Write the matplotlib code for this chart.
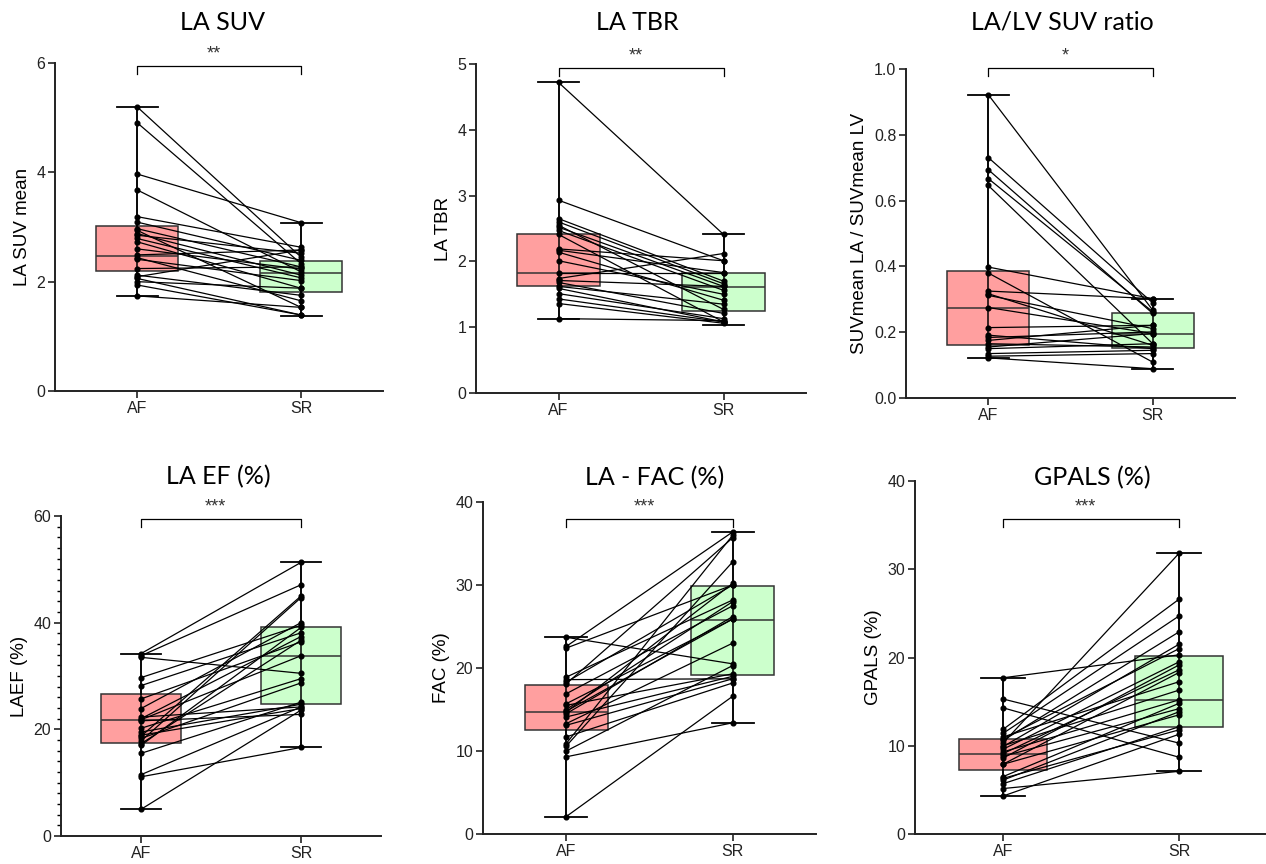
import numpy as np
import matplotlib
matplotlib.use("Agg")
import matplotlib.pyplot as plt

plt.rcParams['font.family'] = ['Liberation Sans', 'DejaVu Sans']

groups = ["AF", "SR"]

# paired values (AF -> SR), one entry per patient
suv_af = [5.20, 4.91, 3.97, 3.68, 3.19, 3.09, 2.97, 2.94, 2.88, 2.85, 2.79, 2.73,
          2.60, 2.49, 2.44, 2.41, 2.24, 2.12, 2.09, 2.06, 2.00, 1.94, 1.74]
suv_sr = [2.45, 2.33, 3.08, 2.18, 2.63, 2.39, 2.27, 1.53, 2.12, 2.52, 2.07, 1.88,
          2.23, 2.58, 1.65, 2.02, 2.27, 1.75, 2.58, 1.39, 1.88, 1.39, 1.53]

tbr_af = [4.72, 2.93, 2.65, 2.60, 2.55, 2.52, 2.47, 2.41, 2.19, 2.17, 2.14, 2.01,
          1.83, 1.74, 1.71, 1.68, 1.62, 1.59, 1.51, 1.43, 1.36, 1.13]
tbr_sr = [2.41, 2.01, 1.70, 1.66, 1.27, 1.62, 1.56, 1.08, 2.01, 1.83, 1.41, 1.50,
          1.83, 2.12, 1.62, 1.21, 1.35, 1.08, 1.13, 1.08, 1.06, 1.10]

ratio_af = [0.922, 0.731, 0.694, 0.667, 0.646, 0.398, 0.380, 0.325, 0.317, 0.312, 0.275,
            0.214, 0.191, 0.184, 0.175, 0.165, 0.155, 0.150, 0.135, 0.127, 0.122]
ratio_sr = [0.267, 0.289, 0.257, 0.262, 0.165, 0.302, 0.109, 0.302, 0.160, 0.211, 0.196,
            0.221, 0.150, 0.201, 0.221, 0.155, 0.196, 0.165, 0.145, 0.135, 0.089]

ef_af = [34.2, 33.8, 33.5, 29.7, 28.2, 25.7, 23.9, 22.3, 22.0, 21.6, 20.2, 19.5,
         18.7, 18.3, 17.8, 17.3, 17.0, 15.5, 11.5, 11.1, 5.0, 21.8, 18.9]
ef_sr = [51.3, 47.1, 30.5, 39.5, 38.1, 36.4, 40.0, 24.2, 37.4, 22.8, 29.5, 24.7,
         45.0, 28.7, 44.7, 36.7, 39.1, 25.1, 24.2, 16.6, 23.6, 33.8, 23.9]

fac_af = [23.7, 22.6, 22.4, 18.9, 18.6, 18.1, 16.9, 15.7, 15.5, 14.7, 14.5, 14.1,
          13.3, 11.7, 10.9, 10.6, 10.0, 9.3, 2.1, 14.8, 18.3, 13.1, 15.0]
fac_sr = [20.5, 36.4, 30.0, 28.2, 18.7, 35.7, 27.5, 25.9, 19.3, 30.2, 26.2, 19.0,
          23.0, 18.2, 36.0, 32.8, 20.3, 13.4, 16.6, 25.9, 30.0, 18.7, 28.0]

gpals_af = [17.7, 15.3, 14.3, 11.85, 11.4, 10.6, 10.3, 9.9, 9.6, 9.1, 8.6, 7.9,
            6.5, 6.1, 5.7, 5.15, 4.3, 11.0, 10.0, 9.3, 8.8, 7.9, 6.3, 10.8]
gpals_sr = [20.3, 10.3, 8.7, 26.6, 24.7, 22.9, 31.8, 21.5, 19.5, 18.6, 19.15, 18.3,
            14.8, 13.85, 12.15, 7.1, 11.3, 17.25, 16.3, 15.2, 14.2, 13.5, 11.8, 21.0]

# box statistics as shown: (min, q1, median, q3, max) for AF and SR
suv_box = [(1.74, 2.20, 2.47, 3.02, 5.20), (1.37, 1.81, 2.15, 2.38, 3.08)]
tbr_box = [(1.13, 1.63, 1.82, 2.41, 4.72), (1.04, 1.25, 1.61, 1.82, 2.41)]
ratio_box = [(0.123, 0.160, 0.274, 0.386, 0.922), (0.089, 0.152, 0.194, 0.257, 0.302)]
ef_box = [(5.0, 17.5, 21.7, 26.7, 34.2), (16.6, 24.7, 33.8, 39.1, 51.3)]
fac_box = [(2.1, 12.5, 14.7, 18.0, 23.7), (13.4, 19.2, 25.8, 29.9, 36.4)]
gpals_box = [(4.3, 7.2, 9.1, 10.75, 17.7), (7.1, 12.1, 15.2, 20.2, 31.8)]

titles = ["LA SUV", "LA TBR", "LA/LV SUV ratio", "LA EF (%)", "LA - FAC (%)", "GPALS (%)"]
ylabels = ["LA SUV mean", "LA TBR", "SUVmean LA / SUVmean LV", "LAEF (%)", "FAC (%)", "GPALS (%)"]
stars = ["**", "**", "*", "***", "***", "***"]
ymaxes = [6, 5, 1.0, 60, 40, 40]
ysteps = [2, 1, 0.2, 20, 10, 10]
yfmt = ["{:.0f}", "{:.0f}", "{:.1f}", "{:.0f}", "{:.0f}", "{:.0f}"]

panels = [(suv_af, suv_sr, suv_box), (tbr_af, tbr_sr, tbr_box), (ratio_af, ratio_sr, ratio_box),
          (ef_af, ef_sr, ef_box), (fac_af, fac_sr, fac_box), (gpals_af, gpals_sr, gpals_box)]

# layout in pixels of the 1266x864 canvas: axes (left, top, right, bottom)
W, H = 1266, 864
ax_px = [(55, 63, 383, 391), (476, 64, 806, 393), (906, 69, 1235, 398),
         (61, 516, 381, 836), (483, 502, 816, 834), (915, 481, 1267, 834)]
title_px = [(222, 22), (637, 22), (1062, 22), (218, 477), (655, 478), (1092, 478)]
bracket_px = [66, 68, 68, 519, 519, 519]

box_colors = ["#ff9f9f", "#ccffcc"]

fig = plt.figure(figsize=(W / 100, H / 100), dpi=100)

for i, (af, sr, box) in enumerate(panels):
    l, t, r, b = ax_px[i]
    ax = fig.add_axes([l / W, 1 - b / H, (r - l) / W, (b - t) / H])
    ymax = ymaxes[i]
    px_per_unit = (b - t) / ymax

    stats = []
    for lo, q1, med, q3, hi in box:
        stats.append(dict(whislo=lo, q1=q1, med=med, q3=q3, whishi=hi, fliers=[]))
    bp = ax.bxp(stats, positions=[0, 1], widths=0.5, capwidths=0.25, patch_artist=True,
                showfliers=False,
                boxprops=dict(edgecolor="#333333", linewidth=1.1),
                medianprops=dict(color="#333333", linewidth=1.1),
                whiskerprops=dict(color="black", linewidth=1.1),
                capprops=dict(color="black", linewidth=1.3))
    for patch, c in zip(bp["boxes"], box_colors):
        patch.set_facecolor(c)
        patch.set_zorder(1)
    for k, st in enumerate(box):
        ax.vlines(k, st[0], st[4], color="black", lw=1.1, zorder=2)

    for a, s in zip(af, sr):
        ax.plot([0, 1], [a, s], color="black", lw=0.9, marker="o", ms=3.4,
                zorder=3, clip_on=False)

    ax.set_xlim(-0.5, 1.5)
    ax.set_ylim(0, ymax)
    ax.spines["top"].set_visible(False)
    ax.spines["right"].set_visible(False)
    for sp in ("left", "bottom"):
        ax.spines[sp].set_linewidth(1.4)
        ax.spines[sp].set_color("#222222")
    ax.set_xticks([0, 1])
    ax.set_xticklabels(groups, fontsize=11.5)
    yt = np.arange(0, ymax + ysteps[i] / 2, ysteps[i])
    ax.set_yticks(yt)
    ax.set_yticklabels([yfmt[i].format(v) for v in yt], fontsize=11.5)
    if i == 3:
        ax.set_yticks(np.arange(0, 61, 2), minor=True)
        ax.tick_params(axis="y", which="minor", length=3, width=1.0, direction="out")
    ax.tick_params(axis="both", which="major", length=5, width=1.2, direction="out",
                   pad=2, colors="#222222")
    ax.set_ylabel(ylabels[i], fontsize=13.5, labelpad=4)

    # significance bracket
    yb = ymax - (bracket_px[i] - t) / px_per_unit
    d = 8 / px_per_unit
    ax.plot([0, 0, 1, 1], [yb - d, yb, yb, yb - d], color="black", lw=0.9, clip_on=False)
    ax.annotate(stars[i], xy=(0.5, yb), xytext=(-4, 5.5), textcoords="offset points",
                ha="center", va="baseline", fontsize=13, color="#333333",
                annotation_clip=False)

    tx, ty = title_px[i]
    fig.text(tx / W, 1 - ty / H, titles[i], ha="center", va="center", fontsize=18,
             family=["Lato", "DejaVu Sans"])

fig.savefig("out.png", dpi=100)
